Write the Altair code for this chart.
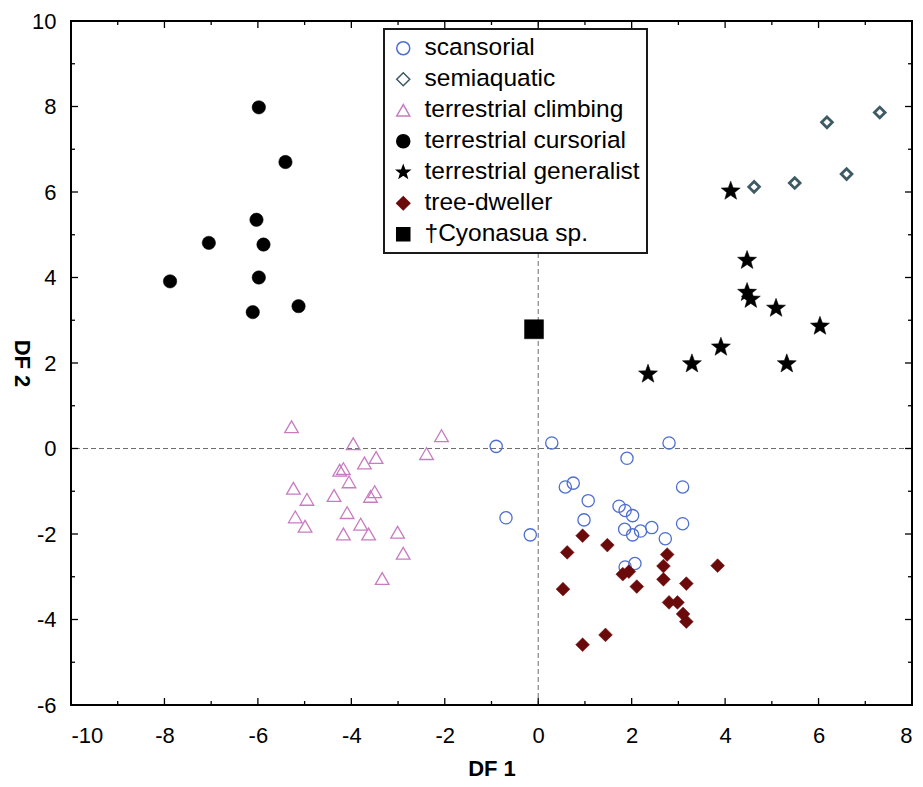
import altair as alt
import pandas as pd

# ---------------- data ----------------
groups = ["scansorial", "semiaquatic", "terrestrial climbing", "terrestrial cursorial",
          "terrestrial generalist", "tree-dweller", "†Cyonasua sp."]

scansorial_x = [-0.90, 0.29, 2.80, 1.90, 0.58, 0.75, 3.09, 1.07, 1.73, 1.86, 2.02,
                0.98, 3.09, -0.69, -0.17, 1.85, 2.02, 2.19, 2.43, 2.72, 1.86, 2.07]
scansorial_y = [0.05, 0.13, 0.13, -0.23, -0.90, -0.81, -0.90, -1.22, -1.35, -1.45, -1.57,
                -1.67, -1.76, -1.62, -2.02, -1.89, -2.02, -1.93, -1.85, -2.11, -2.77, -2.69]

semiaquatic_x = [4.62, 5.49, 6.18, 6.60, 7.31]
semiaquatic_y = [6.12, 6.21, 7.63, 6.42, 7.86]

climbing_x = [-5.28, -3.96, -2.07, -2.39, -3.47, -3.72, -4.25, -4.17, -4.05, -5.24, -4.95, -4.37,
              -3.50, -3.59, -5.20, -4.99, -4.09, -3.80, -4.17, -3.63, -3.01, -2.89, -3.34]
climbing_y = [0.51, 0.11, 0.30, -0.12, -0.21, -0.34, -0.51, -0.47, -0.78, -0.93, -1.19, -1.10,
              -1.01, -1.12, -1.60, -1.82, -1.50, -1.77, -2.00, -2.00, -1.96, -2.45, -3.04]

cursorial_x = [-5.98, -5.41, -6.03, -7.05, -5.88, -5.98, -7.88, -5.13, -6.11]
cursorial_y = [7.98, 6.70, 5.35, 4.81, 4.77, 4.00, 3.91, 3.33, 3.19]

generalist_x = [4.12, 4.47, 4.47, 4.55, 5.09, 6.03, 3.91, 3.29, 5.32, 2.35]
generalist_y = [6.02, 4.40, 3.65, 3.49, 3.28, 2.86, 2.37, 1.98, 1.98, 1.74]

treedweller_x = [0.95, 1.48, 0.62, 2.76, 2.68, 3.84, 1.81, 1.94, 2.68, 3.17, 2.11, 0.53,
                 2.80, 2.98, 3.10, 3.17, 1.44, 0.95]
treedweller_y = [-2.04, -2.26, -2.43, -2.48, -2.75, -2.74, -2.94, -2.88, -3.06, -3.16, -3.23, -3.29,
                 -3.60, -3.60, -3.87, -4.05, -4.36, -4.59]

cyonasua_x = [-0.09]
cyonasua_y = [2.79]

x_label_values = [-10, -8, -6, -4, -2, 0, 2, 4, 6, 8]
y_label_values = [-6, -4, -2, 0, 2, 4, 6, 8, 10]
x_major_ticks = [-10, -8, -6, -4, -2, 0, 2, 4, 6, 8]
x_minor_ticks = [-9, -7, -5, -3, -1, 1, 3, 5, 7]
y_major_ticks = [-6, -4, -2, 0, 2, 4, 6, 8, 10]
y_minor_ticks = [-5, -3, -1, 1, 3, 5, 7, 9]
zero_values = [0]

# ---------------- table ----------------
series = [
    (groups[0], scansorial_x, scansorial_y),
    (groups[1], semiaquatic_x, semiaquatic_y),
    (groups[2], climbing_x, climbing_y),
    (groups[3], cursorial_x, cursorial_y),
    (groups[4], generalist_x, generalist_y),
    (groups[5], treedweller_x, treedweller_y),
    (groups[6], cyonasua_x, cyonasua_y),
]
rows = []
for name, xs_, ys_ in series:
    for a, b in zip(xs_, ys_):
        rows.append({"group": name, "x": a, "y": b})
df = pd.DataFrame(rows)

# ---------------- styles ----------------
W, H = 841, 684
FONT = "Liberation Sans"
STAR = ("M0,-1L0.245,-0.337L0.951,-0.309L0.397,0.129L0.588,0.809L0,0.417"
        "L-0.588,0.809L-0.397,0.129L-0.951,-0.309L-0.245,-0.337Z")
shapes = ["circle", "diamond", "triangle-up", "circle", STAR, "diamond", "square"]
fills = ["transparent", "transparent", "transparent", "black", "black", "#6b0a0a", "black"]
strokes = ["#4f6fd0", "#3e5a63", "#c77cc0", "black", "black", "#6b0a0a", "black"]
sizes = [150, 115, 185, 180, 400, 190, 361]
stroke_widths = [1.3, 2.8, 1.3, 0.5, 0.5, 0.5, 0.5]

xs = alt.Scale(domain=[-10, 8], nice=False, zero=False)
ys = alt.Scale(domain=[-6, 10], nice=False, zero=False)

x_axis = alt.Axis(values=x_label_values, labelExpr="datum.value + ''",
                  title="DF 1", ticks=False, tickSize=0, domain=False, grid=False,
                  labelPadding=20, labelFontSize=22,
                  titleFontSize=22, titleFontWeight="bold",
                  titleY=63, titleBaseline="middle")
y_axis = alt.Axis(values=y_label_values, labelExpr="datum.value + ''",
                  title="DF 2", ticks=False, tickSize=0, domain=False, grid=False,
                  labelPadding=15, labelFontSize=22,
                  titleFontSize=22, titleFontWeight="bold", titleAngle=90,
                  titleX=-50, titleBaseline="middle")

legend = alt.Legend(title=None, orient="none", legendX=313, legendY=8)
shape_scale = alt.Scale(domain=groups, range=shapes)
fill_scale = alt.Scale(domain=groups, range=fills)
stroke_scale = alt.Scale(domain=groups, range=strokes)

point_layers = []
for g, s, w in zip(groups, sizes, stroke_widths):
    point_layers.append(
        alt.Chart(df).transform_filter(alt.datum.group == g)
        .mark_point(opacity=1, size=s, strokeWidth=w)
        .encode(
            x=alt.X("x:Q", scale=xs, axis=x_axis),
            y=alt.Y("y:Q", scale=ys, axis=y_axis),
            shape=alt.Shape("group:N", scale=shape_scale, legend=legend),
            fill=alt.Fill("group:N", scale=fill_scale, legend=legend),
            stroke=alt.Stroke("group:N", scale=stroke_scale, legend=legend),
        )
    )

zdf = pd.DataFrame({"z": zero_values})
vline = alt.Chart(zdf).mark_rule(color="#6e6e6e", strokeDash=[5, 3], strokeWidth=1).encode(
    x=alt.X("z:Q", scale=xs, axis=x_axis))
hline = alt.Chart(zdf).mark_rule(color="#6e6e6e", strokeDash=[5, 3], strokeWidth=1).encode(
    y=alt.Y("z:Q", scale=ys, axis=y_axis))


def x_ticks(vals, length):
    d = pd.DataFrame({"v": vals})
    bottom = alt.Chart(d).mark_rule(color="black", strokeWidth=1.3).encode(
        x=alt.X("v:Q", scale=xs, axis=x_axis), y=alt.value(H), y2=alt.value(H - length))
    top = alt.Chart(d).mark_rule(color="black", strokeWidth=1.3).encode(
        x=alt.X("v:Q", scale=xs, axis=x_axis), y=alt.value(0), y2=alt.value(length))
    return [bottom, top]


def y_ticks(vals, length):
    d = pd.DataFrame({"v": vals})
    left = alt.Chart(d).mark_rule(color="black", strokeWidth=1.3).encode(
        y=alt.Y("v:Q", scale=ys, axis=y_axis), x=alt.value(0), x2=alt.value(length))
    right = alt.Chart(d).mark_rule(color="black", strokeWidth=1.3).encode(
        y=alt.Y("v:Q", scale=ys, axis=y_axis), x=alt.value(W), x2=alt.value(W - length))
    return [left, right]


ticks = x_ticks(x_major_ticks, 7) + x_ticks(x_minor_ticks, 4) + \
    y_ticks(y_major_ticks, 7) + y_ticks(y_minor_ticks, 4)

chart = alt.layer(vline, hline, *point_layers, *ticks).properties(
    width=W, height=H,
    padding={"left": 2, "top": 2, "right": 0, "bottom": 0},
).configure_view(
    stroke="black", strokeWidth=2
).configure_axis(
    labelFont=FONT, titleFont=FONT, labelColor="black", titleColor="black"
).configure_legend(
    labelFont=FONT, labelFontSize=24.5, labelColor="black",
    padding=7, rowPadding=6, labelOffset=9, symbolOffset=0,
    symbolSize=170, symbolStrokeWidth=1.5,
    strokeColor="#1a1a1a", strokeWidth=2, fillColor="white",
    labelLimit=400
)

chart.save("out.html", embed_options={"renderer": "svg", "actions": False})
